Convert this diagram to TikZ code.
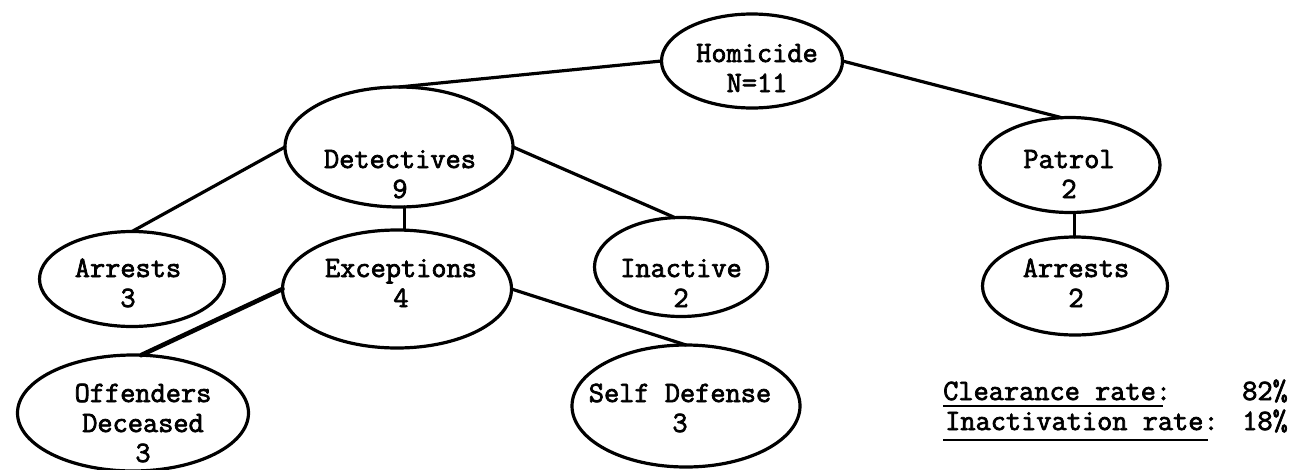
\documentclass[tikz,border=0pt]{standalone}
\usepackage{fontspec}
\newfontfamily\typewriter{Latin Modern Mono}[FakeBold=2.5]
\usetikzlibrary{shapes.geometric}
\begin{document}
\begin{tikzpicture}[x=1pt,y=-1pt,
  oval/.style 2 args={draw, ellipse, line width=3.2pt, inner sep=0pt, outer sep=0pt,
    minimum width=#1, minimum height=#2},
  lbl/.style={anchor=base, align=center, inner sep=0pt,
    font=\fontsize{29.5}{30}\selectfont\typewriter},
  link/.style={line width=3.2pt, line cap=round},
  heavy/.style={line width=4.6pt, line cap=round},
  rule/.style={line width=2.2pt}]
\useasboundingbox (0,0) rectangle (1297,469);

% ellipses of the tree
\node[oval={181}{94}]  (hom) at (752,61)  {};
\node[oval={228}{120}] (det) at (399,147) {};
\node[oval={180}{95}]  (pat) at (1070,165) {};
\node[oval={185}{95}]  (arl) at (132,279) {};
\node[oval={229}{118}] (exc) at (397,289) {};
\node[oval={173}{99}]  (ina) at (681,267) {};
\node[oval={185}{98}]  (arr) at (1075,286) {};
\node[oval={231}{116}] (off) at (133,413) {};
\node[oval={228}{122}] (sdf) at (686,406) {};

% labels inside the ellipses (anchored on the baseline of the last line)
\node[lbl] (homt) at (757,92)  {Homicide\\N=11};
\node[lbl] (dett) at (400,198) {Detectives\\9};
\node[lbl] (patt) at (1069,198) {Patrol\\2};
\node[lbl] (arlt) at (128,307) {Arrests\\3};
\node[lbl] (exct) at (401,307) {Exceptions\\4};
\node[lbl] (inat) at (681,307) {Inactive\\2};
\node[lbl] (arrt) at (1076,307) {Arrests\\2};
\node[lbl] (offt) at (143,462) {Offenders\\Deceased\\3};
\node[lbl] (sdft) at (680,432) {Self Defense\\3};

% branches
\draw[link] (hom.west) -- (det.north);
\draw[link] (hom.east) -- (pat.100);
\draw[link] (det.west) -- (arl.north);
\draw[link] (det.east) -- (ina.97);
\draw[link] (det.-85) -- (det.-85 |- exc.north);
\draw[heavy] (exc.west) -- (off.82);
\draw[link] (exc.east) -- (sdf.north);
\draw[link] (pat.-85) -- (pat.-85 |- arr.north);

% rates
\node[lbl, anchor=base west] (clr) at (943,400) {Clearance rate:};
\node[lbl, anchor=base east] (clv) at (1288,400) {82\%};
\node[lbl, anchor=base west] (inr) at (945,430) {Inactivation rate:};
\node[lbl, anchor=base east] (inv) at (1288,430) {18\%};
\coordinate (u1a) at (943,406);
\coordinate (u1b) at (1163,406);
\coordinate (u2a) at (943,440);
\coordinate (u2b) at (1208,440);
\draw[rule] (u1a) -- (u1b);
\draw[rule] (u2a) -- (u2b);
\end{tikzpicture}
\end{document}
